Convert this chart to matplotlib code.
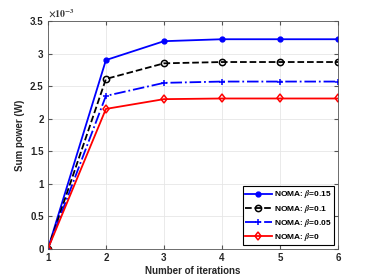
import numpy as np
import matplotlib
matplotlib.use('Agg')
import matplotlib.pyplot as plt

iterations = [1, 2, 3, 4, 5, 6]
power_b015 = [0.0, 2.90e-3, 3.19e-3, 3.22e-3, 3.22e-3, 3.22e-3]
power_b010 = [0.0, 2.61e-3, 2.85e-3, 2.87e-3, 2.87e-3, 2.87e-3]
power_b005 = [0.0, 2.35e-3, 2.55e-3, 2.57e-3, 2.57e-3, 2.57e-3]
power_b000 = [0.0, 2.15e-3, 2.30e-3, 2.31e-3, 2.31e-3, 2.31e-3]
labels = [r'NOMA: $\beta$=0.15', r'NOMA: $\beta$=0.1',
          r'NOMA: $\beta$=0.05', r'NOMA: $\beta$=0']

plt.rcParams['font.family'] = ['Liberation Sans', 'DejaVu Sans']
plt.rcParams['font.weight'] = 'bold'
plt.rcParams['mathtext.fontset'] = 'stix'

fig = plt.figure(figsize=(3.74, 2.8), dpi=100)
ax = fig.add_axes([0.128, 0.111, 0.776, 0.814])

ax.plot(iterations, power_b015, '-o', color='blue', lw=1.3, ms=3.5,
        mfc='blue', label=labels[0])
ax.plot(iterations, power_b010, '--o', color='black', lw=1.3, ms=4.5,
        mfc='none', mew=1.1, label=labels[1])
ax.plot(iterations, power_b005, '-.+', color='blue', lw=1.3, ms=4.5,
        mew=1.1, label=labels[2])
ax.plot(iterations, power_b000, '-d', color='red', lw=1.3, ms=4.5,
        mfc='none', mew=1.1, label=labels[3])

ax.set_xlim(1, 6)
ax.set_ylim(0, 3.5e-3)
ax.set_xticks(iterations)
yt = np.arange(0, 3.51e-3, 0.5e-3)
ax.set_yticks(yt, ['0', '0.5', '1', '1.5', '2', '2.5', '3', '3.5'])
ax.tick_params(direction='in', top=True, right=True, labelsize=7,
               length=3, color='#555555', labelcolor='#262626', pad=3)
for s in ax.spines.values():
    s.set_color('#555555')
    s.set_linewidth(0.6)
ax.grid(True, color='#e6e6e6', lw=0.6)
ax.set_axisbelow(True)
ax.text(0.0, 1.005, r'$\times10^{-3}$', transform=ax.transAxes,
        fontsize=7, ha='left', va='bottom', color='#333333')

ax.set_xlabel('Number of iterations', fontsize=7, fontweight='bold',
              labelpad=2, color='#262626')
ax.set_ylabel('Sum power (W)', fontsize=7, fontweight='bold',
              labelpad=4, color='#262626')

leg = ax.legend(loc='lower right', fontsize=6, frameon=True, fancybox=False,
                edgecolor='black', framealpha=1, borderpad=0.25,
                labelspacing=0.25, handlelength=3.2, handletextpad=0.3,
                borderaxespad=0.5)
leg.get_frame().set_linewidth(0.8)

fig.savefig('out.png', dpi=100)
